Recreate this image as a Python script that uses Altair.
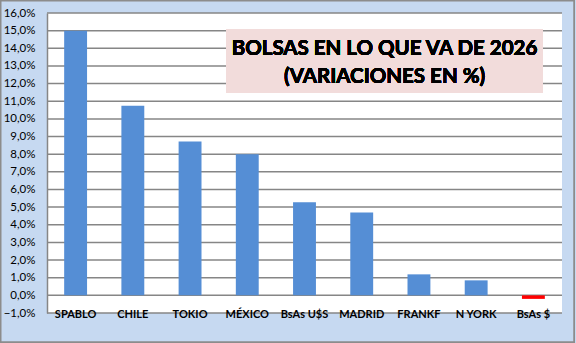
import altair as alt
import pandas as pd

categories = ["SPABLO", "CHILE", "TOKIO", "MÉXICO", "BsAs U$S", "MADRID", "FRANKF", "N YORK", "BsAs $"]
values = [15.0, 10.75, 8.72, 8.0, 5.27, 4.7, 1.19, 0.85, -0.2]
bar_colors = ["#558ED5", "#558ED5", "#558ED5", "#558ED5", "#558ED5", "#558ED5", "#558ED5", "#558ED5", "#FF0000"]
y_ticks = list(range(-1, 17))
title_lines = ["BOLSAS EN LO QUE VA DE 2026", "(VARIACIONES EN %)"]

df = pd.DataFrame({"cat": categories, "val": values, "col": bar_colors})
gdf = pd.DataFrame({"t": y_ticks})

W, H = 515, 300
PAD_L, PAD_T, PAD_R, PAD_B = 47, 13, 14, 30

yscale = alt.Scale(domain=[-1, 16], nice=False, zero=False)
yaxis = alt.Axis(title=None, values=y_ticks,
                 labelExpr="replace(format(datum.value, '.1f'), '.', ',') + '%'",
                 labelFont="Lato", labelFontSize=11.5, labelColor="#000000",
                 labelPadding=12, ticks=False, tickSize=0, labelOverlap=False,
                 domain=True, domainColor="#868686", domainWidth=1.5,
                 grid=False, zindex=1)

border = alt.Chart(df).mark_rect(fill="#C6D9F1", stroke="#8C8C8C", strokeWidth=1.5).encode(
    x=alt.value(-PAD_L + 0.75), x2=alt.value(574 - PAD_L),
    y=alt.value(-PAD_T + 0.75), y2=alt.value(342 - PAD_T)
)

plotbg = alt.Chart(df).mark_rect(fill="white").encode(
    x=alt.value(0), x2=alt.value(W), y=alt.value(0), y2=alt.value(H)
)

grid = alt.Chart(gdf).mark_rule(color="#868686", strokeWidth=1.5).encode(
    y=alt.Y("t:Q", scale=yscale, axis=yaxis),
    x=alt.value(0), x2=alt.value(W),
)

bars = alt.Chart(df).mark_bar().encode(
    x=alt.X("cat:N", sort=None,
            scale=alt.Scale(paddingInner=0.6, paddingOuter=0.3),
            axis=alt.Axis(title=None, labelAngle=0, labelFont="Lato", labelFontWeight="bold",
                          labelFontSize=11, labelColor="#000000", domain=False, ticks=False,
                          tickSize=0, labelPadding=1, labelBaseline="middle", grid=False,
                          zindex=1)),
    y=alt.Y("val:Q", scale=yscale, axis=yaxis),
    y2=alt.datum(0),
    color=alt.Color("col:N", scale=None),
)

tbox = alt.Chart(df).mark_rect(fill="#F2DCDB").encode(
    x=alt.value(179), x2=alt.value(496), y=alt.value(16), y2=alt.value(80)
)
ttext1 = alt.Chart(df).mark_text(font="Lato", fontWeight="bold", fontSize=20.5, color="#000000",
                                 align="center", baseline="middle", text=title_lines[0]).encode(
    x=alt.value(337.5), y=alt.value(36))
ttext2 = alt.Chart(df).mark_text(font="Lato", fontWeight="bold", fontSize=20.5, color="#000000",
                                 align="center", baseline="middle", text=title_lines[1]).encode(
    x=alt.value(337.5), y=alt.value(64))

chart = alt.layer(border, plotbg, grid, bars, tbox, ttext1, ttext2).properties(
    width=W, height=H,
    padding={"left": PAD_L, "top": PAD_T, "right": PAD_R, "bottom": PAD_B},
    autosize=alt.AutoSizeParams(type="none"),
    background="#C6D9F1",
).configure_view(stroke=None)

chart.save("out.html", embed_options={"renderer": "svg", "actions": False})
